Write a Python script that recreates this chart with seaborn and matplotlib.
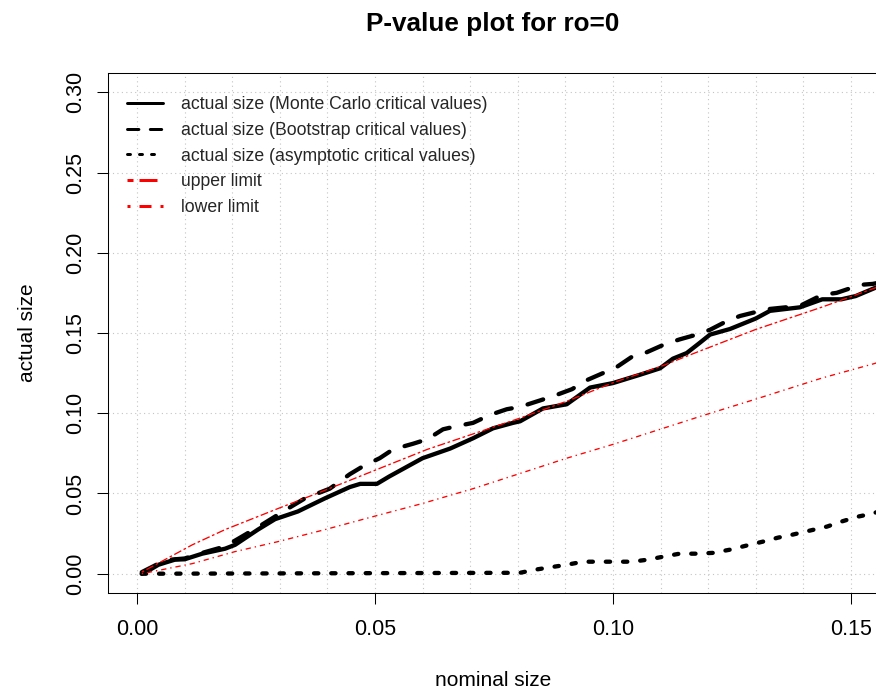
import matplotlib
matplotlib.use("Agg")
import matplotlib.pyplot as plt
import seaborn as sns
from matplotlib.ticker import MultipleLocator, FixedLocator

# ---------------- data ----------------
mc_x = [0.001, 0.003, 0.0045, 0.006, 0.008, 0.010, 0.0137, 0.0185, 0.0206, 0.0254,
        0.029, 0.0338, 0.0395, 0.0447, 0.0469, 0.0504, 0.053, 0.060, 0.0658, 0.0706,
        0.0748, 0.079, 0.0805, 0.0853, 0.0903, 0.0952, 0.100, 0.1057, 0.1099, 0.1126,
        0.1155, 0.1183, 0.1204, 0.1246, 0.130, 0.133, 0.1393, 0.144, 0.148, 0.151,
        0.155, 0.157]
mc_y = [0.000, 0.003, 0.0056, 0.007, 0.0088, 0.009, 0.0125, 0.0156, 0.018, 0.0275,
        0.034, 0.0388, 0.047, 0.054, 0.056, 0.056, 0.0606, 0.072, 0.078, 0.0844,
        0.0906, 0.094, 0.095, 0.103, 0.1056, 0.116, 0.1188, 0.124, 0.128, 0.134,
        0.1375, 0.144, 0.149, 0.1525, 0.159, 0.1638, 0.166, 0.171, 0.171, 0.173,
        0.178, 0.180]

bs_x = [0.001, 0.003, 0.006, 0.010, 0.0137, 0.0185, 0.0254, 0.0317, 0.0353, 0.0405,
        0.0447, 0.0475, 0.051, 0.0538, 0.058, 0.061, 0.0643, 0.0672, 0.0706, 0.0742,
        0.0777, 0.0805, 0.0847, 0.0874, 0.0914, 0.0945, 0.0979, 0.1008, 0.1042, 0.1071,
        0.1109, 0.114, 0.1176, 0.1204, 0.124, 0.1267, 0.131, 0.133, 0.1393, 0.144,
        0.147, 0.152, 0.1546, 0.157]
bs_y = [0.001, 0.004, 0.0085, 0.0095, 0.013, 0.017, 0.029, 0.0406, 0.047, 0.053,
        0.062, 0.067, 0.072, 0.0775, 0.081, 0.0838, 0.090, 0.092, 0.094, 0.099,
        0.1025, 0.104, 0.108, 0.1106, 0.115, 0.1206, 0.125, 0.1288, 0.1356, 0.138,
        0.143, 0.146, 0.149, 0.152, 0.1575, 0.1606, 0.1638, 0.165, 0.1669, 0.1738,
        0.175, 0.180, 0.1806, 0.182]

as_x = [0.001, 0.0805, 0.0836, 0.0868, 0.0903, 0.0937, 0.1040, 0.1074, 0.1105, 0.114,
        0.1176, 0.121, 0.1246, 0.128, 0.1315, 0.1347, 0.1378, 0.1414, 0.145, 0.148,
        0.1515, 0.1546, 0.157]
as_y = [0.000, 0.0006, 0.0025, 0.004, 0.0056, 0.0075, 0.0075, 0.0088, 0.0106, 0.0125,
        0.0125, 0.013, 0.015, 0.0175, 0.020, 0.0225, 0.0244, 0.0269, 0.0294, 0.0325,
        0.0356, 0.0375, 0.040]

up_x = [0.001, 0.0116, 0.0185, 0.0296, 0.0395, 0.0496, 0.061, 0.072, 0.0805, 0.0903,
        0.100, 0.1099, 0.1183, 0.130, 0.144, 0.155, 0.157]
up_y = [0.001, 0.018, 0.0275, 0.0406, 0.052, 0.064, 0.0775, 0.0885, 0.097, 0.1075,
        0.119, 0.129, 0.1388, 0.1522, 0.1662, 0.178, 0.180]

lo_x = [0.001, 0.0116, 0.0206, 0.0296, 0.0395, 0.0496, 0.060, 0.0706, 0.0805, 0.0903,
        0.100, 0.1099, 0.1183, 0.130, 0.144, 0.155, 0.157]
lo_y = [0.000, 0.0063, 0.0138, 0.020, 0.0275, 0.0356, 0.0438, 0.053, 0.0625, 0.072,
        0.0806, 0.090, 0.098, 0.1088, 0.122, 0.131, 0.133]

labels = ["actual size (Monte Carlo critical values)",
          "actual size (Bootstrap critical values)",
          "actual size (asymptotic critical values)",
          "upper limit",
          "lower limit"]

x_ticks = [0.00, 0.05, 0.10, 0.15]
y_ticks = [0.00, 0.05, 0.10, 0.15, 0.20, 0.25, 0.30]

# ---------------- figure ----------------
sns.set_theme(style="white")
plt.rcParams["font.family"] = ["Liberation Sans", "DejaVu Sans"]

W, H = 876, 698
fig = plt.figure(figsize=(W / 100, H / 100), dpi=100)
ax_left, ax_right, ax_top, ax_bottom = 108, 878, 73, 593
ax = fig.add_axes([ax_left / W, (H - ax_bottom) / H,
                   (ax_right - ax_left) / W, (ax_bottom - ax_top) / H])

common = dict(ax=ax, estimator=None, sort=False)
sns.lineplot(x=mc_x, y=mc_y, color="black", linewidth=3.1, linestyle="-",
             solid_capstyle="round", solid_joinstyle="round", label=labels[0], **common)
sns.lineplot(x=bs_x, y=bs_y, color="black", linewidth=3.1, linestyle=(0, (3.8, 3.8)),
             dash_capstyle="round", dash_joinstyle="round", label=labels[1], **common)
sns.lineplot(x=as_x, y=as_y, color="black", linewidth=3.1, linestyle=(0, (1, 3)),
             dash_capstyle="round", dash_joinstyle="round", label=labels[2], **common)
sns.lineplot(x=up_x, y=up_y, color="red", linewidth=0.95, linestyle=(0, (2, 2, 6, 2)),
             label=labels[3], **common)
sns.lineplot(x=lo_x, y=lo_y, color="red", linewidth=0.95, linestyle=(0, (1, 3, 4, 3)),
             label=labels[4], **common)

ax.set_xlim(-0.0061, 0.1557)
ax.set_ylim(-0.012, 0.312)

ax.xaxis.set_major_locator(FixedLocator(x_ticks))
ax.xaxis.set_minor_locator(MultipleLocator(0.01))
ax.yaxis.set_major_locator(FixedLocator(y_ticks))
ax.set_xticklabels([f"{v:.2f}" for v in x_ticks])
ax.set_yticklabels([f"{v:.2f}" for v in y_ticks], rotation=90, va="center")

ax.set_axisbelow(True)
grid_kw = dict(color="#c4c4c4", linestyle=(0, (1, 3)), linewidth=0.8)
ax.grid(True, axis="x", which="both", **grid_kw)
ax.grid(True, axis="y", which="major", **grid_kw)

ax.tick_params(axis="both", which="major", direction="out", length=8, width=0.75,
               color="black", labelsize=15.5, labelcolor="black")
ax.tick_params(axis="x", which="major", pad=10.5)
ax.tick_params(axis="y", which="major", pad=7.5)
ax.tick_params(axis="both", which="minor", length=0)
ax.tick_params(left=True, bottom=True)

for side in ["left", "top", "bottom", "right"]:
    ax.spines[side].set_visible(True)
    ax.spines[side].set_color("black")
    ax.spines[side].set_linewidth(0.75)

ax.set_xlabel("nominal size", fontsize=15, color="black")
ax.set_ylabel("actual size", fontsize=15, color="black")
ax.xaxis.set_label_coords(0.5, (ax_bottom - 671) / (ax_bottom - ax_top))
ax.yaxis.set_label_coords((37.5 - ax_left) / (ax_right - ax_left), 0.5)

ax.set_title("P-value plot for ro=0", fontsize=18.8, fontweight="bold", pad=30, color="black")

leg_fs = 12.7
leg = ax.legend(loc="upper left",
                bbox_to_anchor=((127 - ax_left) / (ax_right - ax_left),
                                (ax_bottom - 96) / (ax_bottom - ax_top)),
                frameon=False, fontsize=leg_fs, handlelength=2.04, handletextpad=1.02,
                labelspacing=0.5, borderaxespad=0, borderpad=0)
for line in leg.get_lines():
    line.set_linewidth(2.16)

fig.savefig("out.png", dpi=100)
